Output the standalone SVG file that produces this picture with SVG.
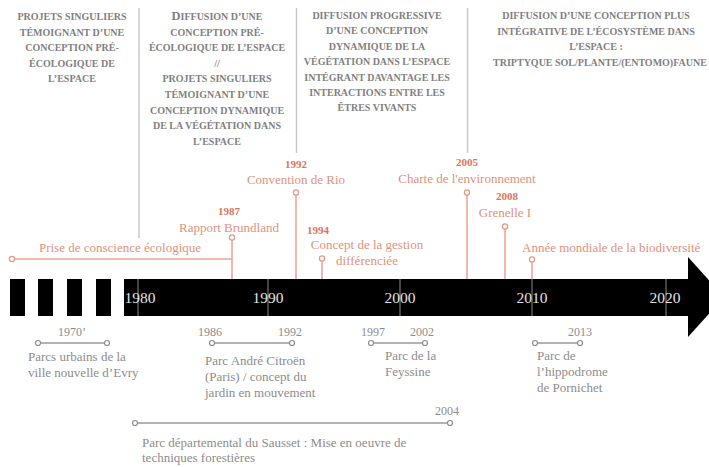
<svg xmlns="http://www.w3.org/2000/svg" width="709" height="467" viewBox="0 0 709 467">
<style>
.hd{font-family:"Liberation Serif",serif;font-weight:bold;font-size:10px;fill:#7f7f7f;text-anchor:middle}
.sep{stroke:#c9c9c9;stroke-width:1.5;fill:none}
.ev{font-family:"Liberation Serif",serif;font-size:13px;fill:#e0927d}
.yr{font-family:"Liberation Serif",serif;font-size:11px;font-weight:bold;fill:#d9745b}
.evl{stroke:#e8a896;stroke-width:1.6;fill:none}
.evc{stroke:#e39a86;stroke-width:1.3;fill:#fff}
.gt{font-family:"Liberation Serif",serif;font-size:13px;fill:#8c8c8c}
.gy{font-family:"Liberation Serif",serif;font-size:12px;fill:#8c8c8c;text-anchor:middle}
.gl{stroke:#9a9a9a;stroke-width:1.6;fill:none}
.gc{stroke:#8c8c8c;stroke-width:1.2;fill:#fff}
.bar{fill:#000}
.tk{stroke:#8a8a8a;stroke-width:1}
.by{font-family:"Liberation Serif",serif;font-size:15.5px;fill:#e2e2e2;text-anchor:middle}
.m{text-anchor:middle}
</style>

<g id="headers">
  <g id="header-1">
    <text class="hd" x="72" y="20">PROJETS SINGULIERS</text>
    <text class="hd" x="72" y="35.6">TÉMOIGNANT D’UNE</text>
    <text class="hd" x="72" y="51.2">CONCEPTION PRÉ-</text>
    <text class="hd" x="72" y="66.8">ÉCOLOGIQUE DE</text>
    <text class="hd" x="72" y="82.4">L’ESPACE</text>
  </g>
  <g id="header-2">
    <text class="hd" x="217" y="20"><tspan font-size="12.5">D</tspan>IFFUSION D’UNE</text>
    <text class="hd" x="217" y="35.6">CONCEPTION PRÉ-</text>
    <text class="hd" x="217" y="51.2">ÉCOLOGIQUE DE L’ESPACE</text>
    <text class="hd" x="217" y="66.8">//</text>
    <text class="hd" x="217" y="82.4">PROJETS SINGULIERS</text>
    <text class="hd" x="217" y="98">TÉMOIGNANT D’UNE</text>
    <text class="hd" x="217" y="113.6">CONCEPTION DYNAMIQUE</text>
    <text class="hd" x="217" y="129.2">DE LA VÉGÉTATION DANS</text>
    <text class="hd" x="217" y="144.8">L’ESPACE</text>
  </g>
  <g id="header-3">
    <text class="hd" x="377" y="19">DIFFUSION PROGRESSIVE</text>
    <text class="hd" x="377" y="34.4">D’UNE CONCEPTION</text>
    <text class="hd" x="377" y="49.8">DYNAMIQUE DE LA</text>
    <text class="hd" x="377" y="65.2">VÉGÉTATION DANS L’ESPACE</text>
    <text class="hd" x="377" y="80.6">INTÉGRANT DAVANTAGE LES</text>
    <text class="hd" x="377" y="96">INTERACTIONS ENTRE LES</text>
    <text class="hd" x="377" y="111.4">ÊTRES VIVANTS</text>
  </g>
  <g id="header-4">
    <text class="hd" x="596" y="19">DIFFUSION D’UNE CONCEPTION PLUS</text>
    <text class="hd" x="596" y="34.5">INTÉGRATIVE DE L’ÉCOSYSTÈME DANS</text>
    <text class="hd" x="596" y="50">L’ESPACE :</text>
    <text class="hd" x="600" y="65.5">TRIPTYQUE SOL/PLANTE/(ENTOMO)FAUNE</text>
  </g>
  <g id="separators">
    <line class="sep" x1="139" y1="8" x2="139" y2="238"/>
    <line class="sep" x1="296.5" y1="8" x2="296.5" y2="153"/>
    <line class="sep" x1="467.5" y1="8" x2="467.5" y2="153"/>
  </g>
</g>

<g id="timeline">
  <rect class="bar" x="10" y="279" width="15" height="37"/>
  <rect class="bar" x="38" y="279" width="15" height="37"/>
  <rect class="bar" x="67" y="279" width="15" height="37"/>
  <rect class="bar" x="96" y="279" width="15" height="37"/>
  <rect class="bar" x="124" y="279" width="565" height="37"/>
  <polygon class="bar" points="688,257 724,297 688,337"/>
  <line class="tk" x1="138" y1="279" x2="138" y2="316"/>
  <line class="tk" x1="268" y1="279" x2="268" y2="316"/>
  <line class="tk" x1="400" y1="279" x2="400" y2="316"/>
  <line class="tk" x1="532" y1="279" x2="532" y2="316"/>
  <line class="tk" x1="666" y1="279" x2="666" y2="316"/>
  <text class="by" x="140" y="302.5">1980</text>
  <text class="by" x="268" y="302.5">1990</text>
  <text class="by" x="400" y="302.5">2000</text>
  <text class="by" x="532" y="302.5">2010</text>
  <text class="by" x="665" y="302.5">2020</text>
</g>

<g id="connectors">
  <path class="evl" d="M14,259 H232 M232,240 V279"/>
  <path class="evl" d="M296,195 V279"/>
  <path class="evl" d="M322,261 V279"/>
  <path class="evl" d="M467,195 V279"/>
  <path class="evl" d="M505,229 V279"/>
  <path class="evl" d="M532,262 V279"/>
  <path class="gl" d="M38,343 H107"/>
  <path class="gl" d="M212,343 H292"/>
  <path class="gl" d="M371,343 H425"/>
  <path class="gl" d="M535,343 H580"/>
  <path class="gl" d="M135,423 H450"/>
</g>

<g id="event-prise">
  <circle class="evc" cx="12" cy="259" r="2.6"/>
  <text class="ev m" x="120" y="252">Prise de conscience écologique</text>
</g>
<g id="event-1987">
  <circle class="evc" cx="232" cy="237.5" r="2.6"/>
  <text class="yr m" x="229" y="215">1987</text>
  <text class="ev m" x="229" y="232">Rapport Brundland</text>
</g>
<g id="event-1992">
  <circle class="evc" cx="296" cy="192.5" r="2.6"/>
  <text class="yr m" x="296" y="168">1992</text>
  <text class="ev m" x="296" y="184">Convention de Rio</text>
</g>
<g id="event-1994">
  <circle class="evc" cx="322" cy="258.5" r="2.6"/>
  <text class="yr" x="307" y="234">1994</text>
  <text class="ev m" x="367" y="249">Concept de la gestion</text>
  <text class="ev m" x="367" y="265">différenciée</text>
</g>
<g id="event-2005">
  <circle class="evc" cx="467" cy="192.5" r="2.6"/>
  <text class="yr m" x="467" y="166">2005</text>
  <text class="ev m" x="467" y="183">Charte de l'environnement</text>
</g>
<g id="event-2008">
  <circle class="evc" cx="505" cy="226.5" r="2.6"/>
  <text class="yr m" x="507" y="200">2008</text>
  <text class="ev m" x="505" y="217">Grenelle I</text>
</g>
<g id="event-2010">
  <circle class="evc" cx="532" cy="259.5" r="2.6"/>
  <text class="ev" x="522" y="252">Année mondiale de la biodiversité</text>
</g>

<g id="park-evry">
  <circle class="gc" cx="38" cy="343" r="2.5"/>
  <circle class="gc" cx="107" cy="343" r="2.5"/>
  <text class="gy" x="72" y="336">1970’</text>
  <text class="gt" x="28" y="361">Parcs urbains de la</text>
  <text class="gt" x="28" y="377">ville nouvelle d’Evry</text>
</g>
<g id="park-citroen">
  <circle class="gc" cx="212" cy="343" r="2.5"/>
  <circle class="gc" cx="292" cy="343" r="2.5"/>
  <text class="gy" x="210" y="336">1986</text>
  <text class="gy" x="290" y="336">1992</text>
  <text class="gt" x="205" y="365">Parc André Citroën</text>
  <text class="gt" x="205" y="381">(Paris) / concept du</text>
  <text class="gt" x="205" y="397">jardin en mouvement</text>
</g>
<g id="park-feyssine">
  <circle class="gc" cx="371" cy="343" r="2.5"/>
  <circle class="gc" cx="425" cy="343" r="2.5"/>
  <text class="gy" x="373" y="336">1997</text>
  <text class="gy" x="422" y="336">2002</text>
  <text class="gt" x="385" y="360">Parc de la</text>
  <text class="gt" x="385" y="376">Feyssine</text>
</g>
<g id="park-pornichet">
  <circle class="gc" cx="535" cy="343" r="2.5"/>
  <circle class="gc" cx="580" cy="343" r="2.5"/>
  <text class="gy" x="580" y="336">2013</text>
  <text class="gt" x="537" y="360">Parc de</text>
  <text class="gt" x="537" y="376">l’hippodrome</text>
  <text class="gt" x="537" y="392">de Pornichet</text>
</g>
<g id="park-sausset">
  <circle class="gc" cx="135" cy="423" r="2.5"/>
  <circle class="gc" cx="450" cy="423" r="2.5"/>
  <text class="gy" x="447" y="415">2004</text>
  <text class="gt" x="142" y="447">Parc départemental du Sausset : Mise en oeuvre de</text>
  <text class="gt" x="142" y="462">techniques forestières</text>
</g>
</svg>
